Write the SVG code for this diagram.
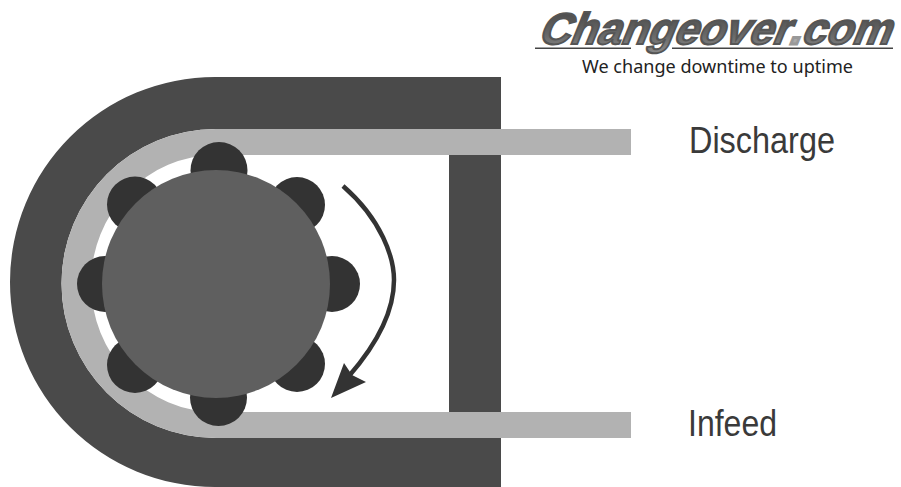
<svg xmlns="http://www.w3.org/2000/svg" width="901" height="487" viewBox="0 0 901 487">
<defs>
<style>
.lab{font-family:"Liberation Sans",Arial,sans-serif;fill:#3a3a3a}
.tooth{fill:#333}
</style>
<linearGradient id="lg" x1="0" y1="0" x2="0" y2="1"><stop offset="0" stop-color="#444"/><stop offset="0.6" stop-color="#666"/><stop offset="1" stop-color="#8a8a8a"/></linearGradient>
</defs>
<rect width="901" height="487" fill="#fff"/>
<g id="frame">
<path d="M501 77H215A205 205 0 0 0 10 282A205 205 0 0 0 215 487H501V438H216A154.500 154.500 0 0 1 216 129H501Z" fill="#4a4a4a"/>
<rect x="449" y="155" width="52" height="257" fill="#4a4a4a"/>
</g>
<g id="belt">
<path d="M631 129H216A154.500 154.500 0 0 0 216 438H631V412H216A125 128.500 0 0 1 216 155H631Z" fill="#b2b2b2"/>
</g>
<g id="drum">
<circle class="tooth" cx="219" cy="170.500" r="28.500"/>
<circle class="tooth" cx="135" cy="204.500" r="28"/>
<circle class="tooth" cx="297" cy="205" r="28"/>
<circle class="tooth" cx="105" cy="284" r="28"/>
<circle class="tooth" cx="332" cy="284" r="28"/>
<circle class="tooth" cx="135" cy="365" r="28"/>
<circle class="tooth" cx="297" cy="364" r="28"/>
<circle class="tooth" cx="218.500" cy="397.500" r="28.500"/>
<circle cx="216" cy="284" r="114" fill="#5f5f5f"/>
</g>
<g id="connectors">
<path d="M343 186C382 220 394 258 394 280C394 312 376 345 349 376" fill="none" stroke="#333" stroke-width="4.500"/>
<path d="M331 398L344 363L352 375L366 382Z" fill="#333"/>
</g>
<g id="discharge"><text class="lab" x="689" y="153" font-size="37" textLength="146" lengthAdjust="spacingAndGlyphs">Discharge</text></g>
<g id="infeed"><text class="lab" x="688" y="436" font-size="37" textLength="89" lengthAdjust="spacingAndGlyphs">Infeed</text></g>
<g id="logo">
<text transform="translate(537,44) skewX(-22)" x="0" y="0" font-family="'Liberation Sans',Arial,sans-serif" font-size="44" font-weight="bold" fill="url(#lg)" stroke="#555" stroke-width="2" textLength="352" lengthAdjust="spacingAndGlyphs">Changeover<tspan fill="#aaa" stroke="#999" stroke-width="3">.</tspan>com</text>
<rect x="535" y="47.500" width="96" height="1.500" fill="#444"/>
<rect x="672" y="47.500" width="221" height="1.500" fill="#444"/>
<text x="582" y="73" font-family="'Noto Sans','Liberation Sans',sans-serif" font-size="18" fill="#222" textLength="271" lengthAdjust="spacingAndGlyphs">We change downtime to uptime</text>
</g>
</svg>
